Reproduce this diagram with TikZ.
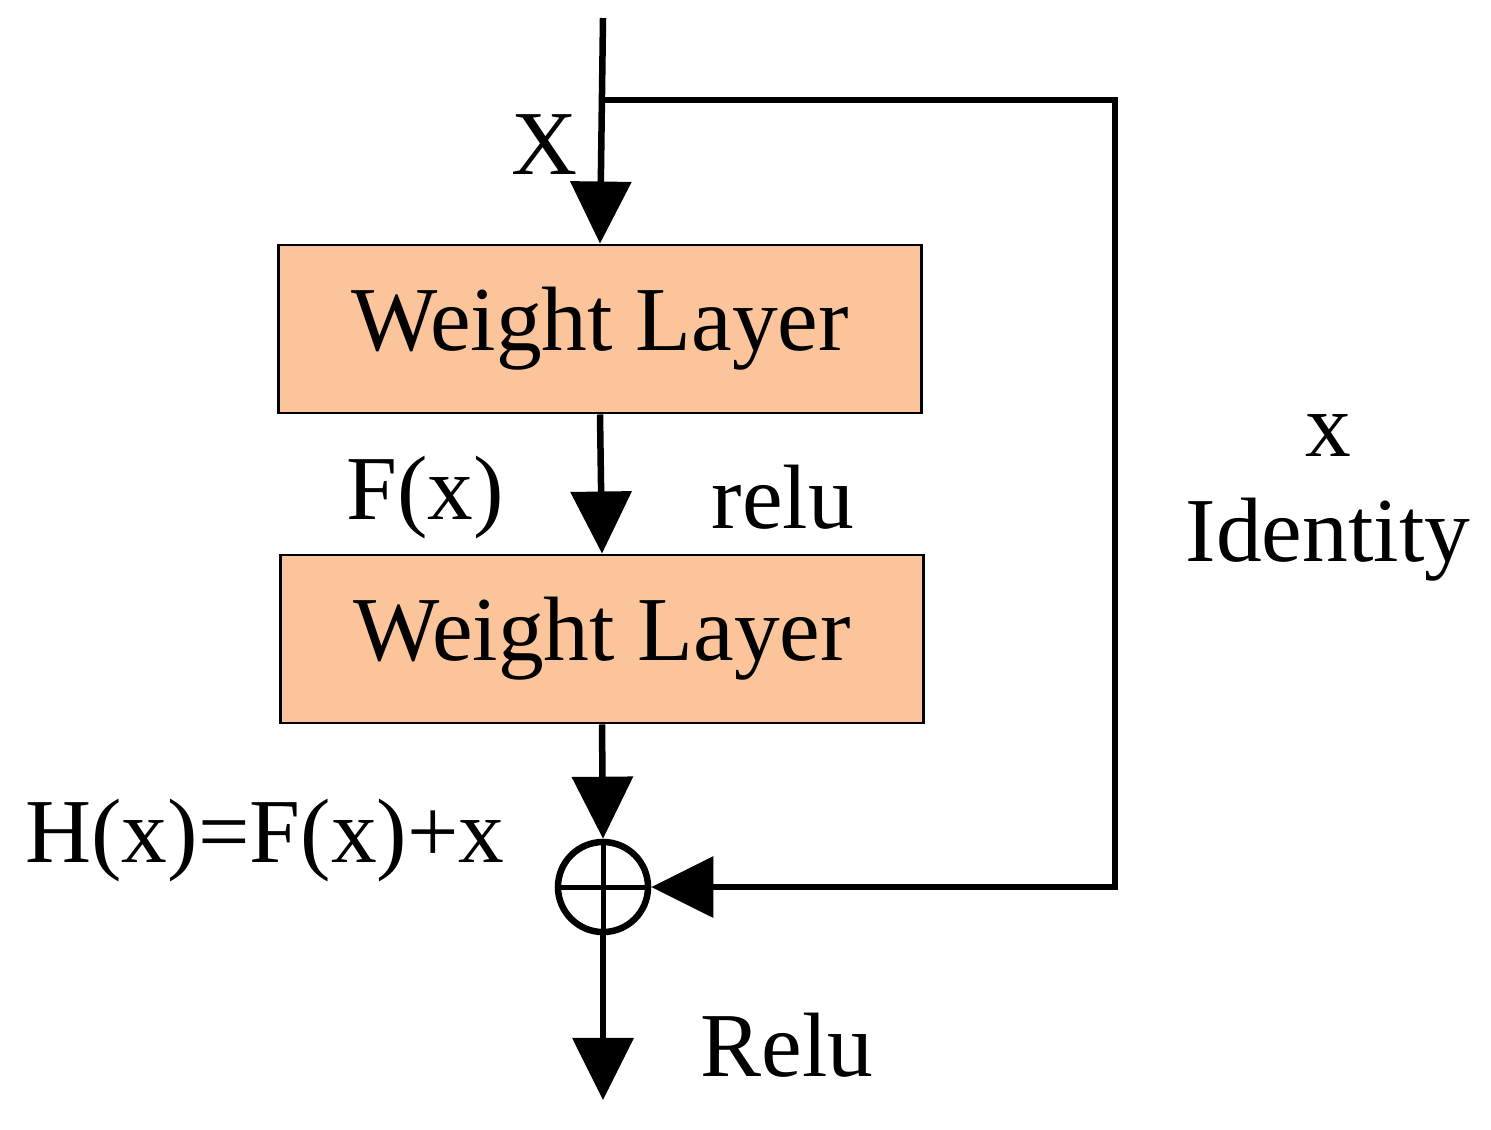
\documentclass[tikz,border=0pt]{standalone}
\usepackage{fontspec}
\setmainfont{Liberation Serif}
\usetikzlibrary{arrows.meta}
\begin{document}
\begin{tikzpicture}[x=0.01cm,y=-0.01cm]
    \useasboundingbox (0,0) rectangle (1491,1129);
    \tikzset{
        layer/.style={draw,thick,fill={rgb,255:red,252;green,196;blue,155},minimum width=6.43cm,minimum height=1.68cm,font=\fontsize{26}{28}\selectfont},
        lbl/.style={font=\fontsize{26}{28}\selectfont},
        flow/.style={line width=0.65mm,-{Triangle[length=0.62cm,width=0.6cm]}}
    }

    \begin{scope}
        \coordinate (in) at (603,18);
        \coordinate (split) at (605,100);
        \coordinate (tr) at (1115,100);
        \coordinate (br) at (1115,887);
        \coordinate (out) at (603,1100);
        \node[layer] (w1) at (600,329) {Weight Layer};
        \node[layer] (w2) at (602,639) {Weight Layer};
        \node[circle,draw,line width=0.65mm,minimum size=0.9cm,inner sep=0pt] (sum) at (603,887) {};
        \draw[line width=0.5mm] (sum.north) -- (sum.south) (sum.west) -- (sum.east);
    \end{scope}

    \begin{scope}[every path/.style={flow}]
        \draw (in) -- (w1.north);
        \draw (w1.south) -- (w2.north);
        \draw (w2.south) -- (sum.north);
        \draw (sum.south) -- (out);
        \draw (split) -- (tr) -- (br) -- (sum.east);
    \end{scope}

    \begin{scope}[every node/.style={lbl}]
        \node at (545,145) {X};
        \node at (425,497) {F(x)};
        \node at (783,497) {relu};
        \node at (1328,435) {x};
        \node at (1328,540) {Identity};
        \node at (265,840) {H(x)=F(x)+x};
        \node at (787,1045) {Relu};
    \end{scope}

\end{tikzpicture}
\end{document}
